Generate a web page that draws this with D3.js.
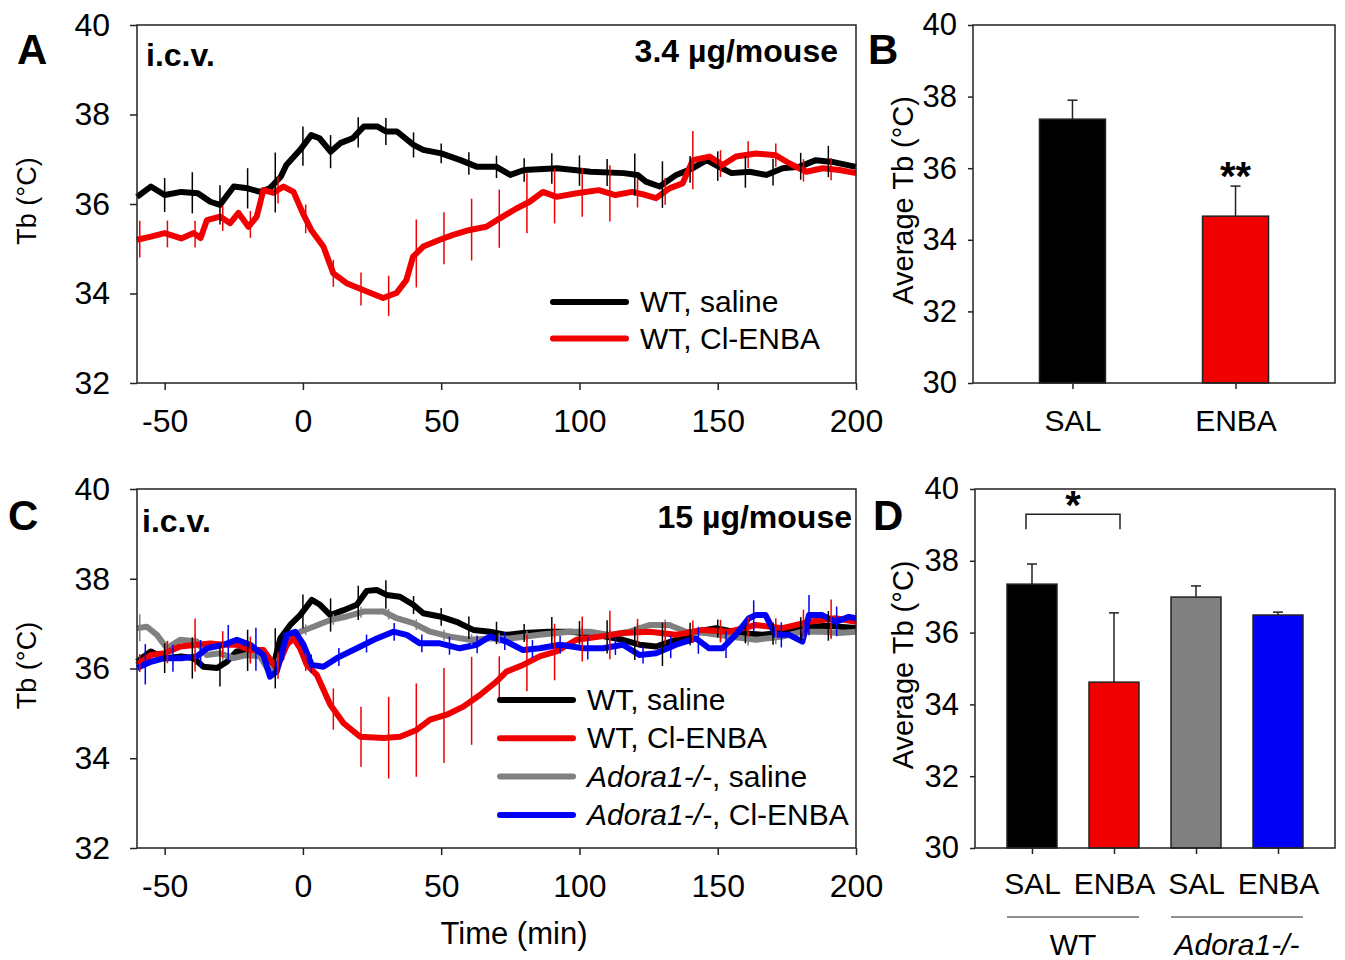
<!DOCTYPE html>
<html>
<head>
<meta charset="utf-8">
<script src="https://cdn.jsdelivr.net/npm/d3@7"></script>
<style>
body { margin: 0; background: #fff; }
text { font-family: "Liberation Sans", Arial, sans-serif; }
</style>
</head>
<body>
<svg id="fig" width="1345" height="960"></svg>
<script>
// ---- data: panel A (3.4 ug/mouse), [time min, Tb]
var aSaline = [[-60,36.16],[-55,36.39],[-50,36.2],[-44,36.27],[-38,36.24],[-33.5,36.05],[-30,35.98],[-25,36.39],[-20,36.35],[-15.5,36.27],[-12,36.35],[-8,36.61],[-6,36.87],[-1,37.21],[3,37.54],[6,37.47],[10,37.17],[13.5,37.36],[18,37.47],[22,37.73],[27,37.73],[30,37.62],[34,37.62],[40,37.32],[43.5,37.21],[50,37.13],[57,36.98],[63,36.83],[70,36.83],[75,36.65],[80,36.76],[92,36.8],[104,36.72],[116,36.69],[121,36.65],[124,36.5],[129,36.39],[135,36.65],[141,36.8],[146,36.98],[150.5,36.83],[155,36.69],[161.5,36.72],[167.5,36.65],[173.5,36.8],[179.5,36.83],[185.5,36.98],[191.5,36.94],[200,36.83]];
var aEnba = [[-60,35.2],[-55,35.27],[-50,35.35],[-44,35.23],[-39.5,35.35],[-37,35.24],[-34.7,35.64],[-30,35.72],[-26.3,35.57],[-23.3,35.8],[-19.7,35.49],[-16.7,35.72],[-14.3,36.31],[-10.6,36.25],[-7,36.39],[-3.4,36.27],[0,35.79],[3,35.42],[7.4,35.05],[11,34.45],[15.8,34.23],[21.8,34.08],[29,33.9],[33.8,34.01],[37.4,34.3],[39.8,34.82],[43.5,35.05],[49.5,35.2],[54.3,35.31],[60.3,35.42],[66.3,35.49],[71.2,35.68],[77.2,35.9],[82,36.05],[86.8,36.27],[91.7,36.16],[99,36.24],[107,36.31],[113,36.2],[119,36.27],[124,36.2],[127.7,36.13],[132.5,36.35],[137.3,36.46],[141,36.98],[147,37.06],[151.8,36.87],[156.6,37.06],[163.8,37.13],[171,37.09],[175.8,36.91],[182,36.72],[188,36.8],[194,36.76],[200,36.69]];

// error bars (half width, degC) every 10 min
var errTimes = [-50,-40,-30,-20,-10,0,10,20,30,40,50,60,70,80,90,100,110,120,130,140,150,160,170,180,190];
var errTimesShift = [-59,-49,-39,-29,-19,-9,1,11,21,31,41,51,61,71,81,91,101,111,121,131,141,151,161,171,181,191];
var errTimesBlue = [-57,-47,-37,-27,-17,-7,3,13,23,33,43,53,63,73,83,93,103,113,123,133,143,153,163,173,183,193];
var aSalineErr = [.38,.46,.44,.45,.67,.44,.37,.34,.3,.28,.22,.25,.25,.26,.34,.34,.3,.47,.52,.3,.33,.35,.3,.3,.35];
var aEnbaErr = [.41,.3,.3,.28,.3,.3,.32,.3,.37,.45,.76,.58,.69,.65,.67,.61,.54,.63,.32,.3,.65,.3,.3,.26,.25,.25];

// ---- data: panel C (15 ug/mouse)
var cSaline = [[-60,36.15],[-55,36.38],[-50,36.23],[-44,36.27],[-39.5,36.23],[-36,36.04],[-31,36.01],[-27.5,36.15],[-24,36.38],[-19,36.41],[-14.3,36.38],[-10.6,36.08],[-8.2,36.67],[-4.6,36.97],[-1,37.19],[3.2,37.53],[6.2,37.42],[9.9,37.19],[14.7,37.3],[19.5,37.42],[23.1,37.73],[26.7,37.75],[30.3,37.64],[35.1,37.6],[39.9,37.42],[43.5,37.23],[49.5,37.16],[55.5,37.04],[61.6,36.86],[67.6,36.82],[73.6,36.75],[79.6,36.79],[89,36.82],[97,36.82],[106,36.75],[115.7,36.64],[121.7,36.53],[127.7,36.49],[134.9,36.64],[142,36.82],[149.4,36.9],[157.8,36.79],[166.2,36.75],[175.8,36.82],[183,36.93],[190.2,36.95],[200,36.9]];
var cEnba = [[-60,36.08],[-55,36.3],[-50,36.34],[-44.4,36.49],[-38.3,36.53],[-33.5,36.56],[-28.7,36.53],[-23.9,36.53],[-19.1,36.41],[-14.3,36.41],[-11.3,36.15],[-9.5,36.0],[-5.8,36.53],[-3.4,36.67],[-1,36.45],[1.4,36.08],[5,35.86],[9.9,35.19],[14.7,34.78],[20.7,34.48],[29.1,34.45],[35.1,34.48],[41.1,34.63],[46,34.86],[52,34.97],[58,35.15],[64,35.41],[70,35.71],[73.6,35.93],[79.6,36.08],[85.6,36.27],[91.7,36.38],[98.9,36.64],[107.3,36.71],[115.7,36.79],[125.3,36.82],[134.9,36.75],[144.5,36.86],[154.2,36.82],[163.8,36.97],[173.4,36.9],[183,37.04],[192.6,37.12],[200,37.04]];
var cKoSaline = [[-60,36.9],[-56.4,36.93],[-52.8,36.75],[-49.2,36.45],[-44.4,36.64],[-38.4,36.6],[-34.8,36.3],[-30,36.34],[-25.1,36.23],[-20.3,36.3],[-15.5,36.27],[-11.9,35.9],[-8.3,36.23],[-4.7,36.67],[-1,36.82],[3.8,36.93],[9.9,37.08],[15.9,37.16],[21.9,37.27],[29.1,37.27],[33.9,37.12],[39.9,37.01],[46,36.82],[53.2,36.71],[60.4,36.64],[67.6,36.67],[74.8,36.67],[85.6,36.75],[96.5,36.82],[103.7,36.82],[110.9,36.75],[118.1,36.82],[125.3,36.97],[132.5,36.97],[138.5,36.82],[145.7,36.79],[154.2,36.71],[163.8,36.64],[173.4,36.71],[180.6,36.82],[187.9,36.82],[193.9,36.79],[200,36.82]];
var cKoEnba = [[-60,36.01],[-55,36.15],[-50,36.23],[-44,36.23],[-38.3,36.27],[-34.7,36.45],[-28.7,36.53],[-23.9,36.64],[-19.1,36.53],[-14.3,36.3],[-11.9,35.82],[-9.5,35.93],[-5.8,36.75],[-2.8,36.82],[0.2,36.53],[3.2,36.08],[7.4,36.04],[12.2,36.23],[19.5,36.45],[26.7,36.67],[32.7,36.82],[37.5,36.75],[42.3,36.56],[49.5,36.56],[56.7,36.45],[62.8,36.53],[67.6,36.71],[73.6,36.6],[79.6,36.41],[85.6,36.45],[92.9,36.53],[101.3,36.45],[108.5,36.45],[115.7,36.53],[121.7,36.3],[127.7,36.34],[134.9,36.53],[142.1,36.67],[146.9,36.45],[151.7,36.45],[156.5,36.75],[161.3,37.12],[163.7,37.19],[167.3,37.19],[170.9,36.75],[175.8,36.75],[180.6,36.6],[183,37.19],[187.8,37.19],[192.6,37.04],[197.4,37.15],[200,37.12]];
var cSalineErr = [.33,.46,.45,.46,.67,.38,.37,.38,.32,.2,.2,.25,.25,.2,.33,.26,.37,.37,.48,.25,.2,.22,.25,.26,.33];
var cEnbaErr = [.2,.25,.59,.3,.3,.3,.2,.46,.67,.91,1.04,1.06,.98,.5,.63,.63,.5,.54,.3,.25,.25,.25,.22,.2,.3,.43];
var cKoSalineErr = [.3,.15,.15,.15,.15,.15,.12,.12,.12,.12,.12,.12,.12,.12,.12,.12,.12,.12,.12,.12,.12,.15,.15,.15,.15,.15];
var cKoEnbaErr = [.45,.3,.3,.4,.48,.3,.2,.2,.2,.2,.2,.2,.2,.2,.2,.2,.25,.2,.2,.25,.3,.3,.35,.28,.45,.33];

// ---- data: bar panels (mean, upper SEM)
var barBKeys = ["SAL", "ENBA"];
var barBMeans = [37.37, 34.66];
var barBErr = [0.53, 0.84];
var barDKeys = ["wtSal", "wtEnba", "koSal", "koEnba"];
var barDLabels = ["SAL", "ENBA", "SAL", "ENBA"];
var barDMeans = [37.35, 34.62, 36.99, 36.49];
var barDErr = [0.56, 1.93, 0.31, 0.08];

var timeTicks = [-50, 0, 50, 100, 150, 200];
var tbTicks = [32, 34, 36, 38, 40];
var avgTicks = [30, 32, 34, 36, 38, 40];

var black = "#000", red = "#f00000", gray = "#808080", blue = "#0000f5", frameCol = "#222";

var svg = d3.select("#fig");
svg.append("rect").attr("width", 1345).attr("height", 960).attr("fill", "#fff");

var xTime = d3.scaleLinear().domain([-60, 200]).range([137, 856]);
var yA = d3.scaleLinear().domain([32, 40]).range([383, 25]);
var yC = d3.scaleLinear().domain([32, 40]).range([848, 489]);

function valueAt(data, t) {
    for (var i = 1; i < data.length; i++) {
        if (t <= data[i][0]) {
            var a = data[i - 1], b = data[i];
            return a[1] + (b[1] - a[1]) * (t - a[0]) / (b[0] - a[0]);
        }
    }
    return data[data.length - 1][1];
}

function styleAxis(g, size) {
    g.attr("font-family", "Liberation Sans, Arial, sans-serif");
    g.select(".domain").remove();
    g.selectAll(".tick line").attr("stroke", frameCol).attr("stroke-width", 1.5);
    g.selectAll(".tick text").attr("font-size", size).attr("fill", "#000");
}

function drawFrame(x0, x1, y) {
    svg.append("rect")
        .attr("x", x0).attr("y", y.range()[1])
        .attr("width", x1 - x0).attr("height", y.range()[0] - y.range()[1])
        .attr("fill", "none").attr("stroke", frameCol).attr("stroke-width", 1.5);
}

function drawTimePanel(y, series) {
    svg.append("g")
        .attr("transform", "translate(0," + y.range()[0] + ")")
        .call(d3.axisBottom(xTime).tickValues(timeTicks).tickSize(7).tickPadding(19).tickFormat(String))
        .call(styleAxis, 32);
    svg.append("g")
        .attr("transform", "translate(" + xTime.range()[0] + ",0)")
        .call(d3.axisLeft(y).tickValues(tbTicks).tickSize(7).tickPadding(20).tickFormat(String))
        .call(styleAxis, 32);

    var line = d3.line().x(function(d) { return xTime(d[0]); }).y(function(d) { return y(d[1]); });
    series.forEach(function(s) {
        svg.append("path").datum(s.data)
            .attr("d", line)
            .attr("fill", "none").attr("stroke", s.color)
            .attr("stroke-width", 6).attr("stroke-linejoin", "round");
    });
    series.forEach(function(s) {
        s.errT.forEach(function(t, i) {
            var v = valueAt(s.data, t);
            svg.append("line")
                .attr("x1", xTime(t)).attr("x2", xTime(t))
                .attr("y1", y(v - s.err[i])).attr("y2", y(v + s.err[i]))
                .attr("stroke", s.color).attr("stroke-width", 1.5);
        });
    });
    drawFrame(xTime.range()[0], xTime.range()[1], y);

    svg.append("text").text("Tb (°C)")
        .attr("transform", "translate(36," + (y(36) - 3) + ") rotate(-90)")
        .attr("text-anchor", "middle").attr("font-size", 27);
}

function drawLegend(x0, y0, gap, items) {
    items.forEach(function(it, i) {
        var ly = y0 + i * gap;
        svg.append("line")
            .attr("x1", x0).attr("x2", x0 + 73).attr("y1", ly).attr("y2", ly)
            .attr("stroke", it.color).attr("stroke-width", 6).attr("stroke-linecap", "round");
        var t = svg.append("text").attr("x", x0 + 87).attr("y", ly + 10).attr("font-size", 30);
        if (it.italic) {
            t.append("tspan").attr("font-style", "italic").text(it.italic);
        }
        t.append("tspan").text(it.label);
    });
}

// ---- panel A
drawTimePanel(yA, [
    { data: aSaline, err: aSalineErr, errT: errTimes, color: black },
    { data: aEnba, err: aEnbaErr, errT: errTimesShift, color: red }
]);
drawLegend(553, 302, 36.5, [
    { color: black, label: "WT, saline" },
    { color: red, label: "WT, Cl-ENBA" }
]);

// ---- panel C
drawTimePanel(yC, [
    { data: cSaline, err: cSalineErr, errT: errTimes, color: black },
    { data: cKoSaline, err: cKoSalineErr, errT: errTimesShift, color: gray },
    { data: cEnba, err: cEnbaErr, errT: errTimesShift, color: red },
    { data: cKoEnba, err: cKoEnbaErr, errT: errTimesBlue, color: blue }
]);
drawLegend(500, 700, 38.3, [
    { color: black, label: "WT, saline" },
    { color: red, label: "WT, Cl-ENBA" },
    { color: gray, italic: "Adora1-/-", label: ", saline" },
    { color: blue, italic: "Adora1-/-", label: ", Cl-ENBA" }
]);

svg.append("text").text("Time (min)")
    .attr("x", 514).attr("y", 944).attr("text-anchor", "middle").attr("font-size", 31);

// annotations
function bold(txt, x, y, size, anchor) {
    svg.append("text").text(txt).attr("x", x).attr("y", y)
        .attr("font-size", size).attr("font-weight", "bold")
        .attr("text-anchor", anchor || "start");
}
bold("i.c.v.", 146, 66, 32);
bold("3.4 µg/mouse", 838, 62, 32, "end");
bold("i.c.v.", 142, 532, 32);
bold("15 µg/mouse", 852, 528, 32, "end");
bold("A", 17, 64, 42);
bold("B", 868, 64, 42);
bold("C", 8, 530, 42);
bold("D", 873, 530, 42);

// ---- bar panels
function drawBarPanel(keys, labels, means, errs, colors, x, y, bw, labelPad) {
    svg.append("g")
        .attr("transform", "translate(" + x.range()[0] + ",0)")
        .call(d3.axisLeft(y).tickValues(avgTicks).tickSize(5).tickPadding(11).tickFormat(String))
        .call(styleAxis, 31);
    svg.append("g")
        .attr("transform", "translate(0," + y.range()[0] + ")")
        .call(d3.axisBottom(x).tickSize(6).tickPadding(labelPad).tickFormat(function(d, i) { return labels[i]; }))
        .call(styleAxis, 30);

    keys.forEach(function(k, i) {
        var cx = x(k);
        svg.append("line")
            .attr("x1", cx).attr("x2", cx)
            .attr("y1", y(means[i])).attr("y2", y(means[i] + errs[i]))
            .attr("stroke", frameCol).attr("stroke-width", 1.5);
        svg.append("line")
            .attr("x1", cx - 5).attr("x2", cx + 5)
            .attr("y1", y(means[i] + errs[i])).attr("y2", y(means[i] + errs[i]))
            .attr("stroke", frameCol).attr("stroke-width", 1.5);
        svg.append("rect")
            .attr("x", cx - bw / 2).attr("width", bw)
            .attr("y", y(means[i])).attr("height", y(30) - y(means[i]))
            .attr("fill", colors[i]).attr("stroke", frameCol).attr("stroke-width", 1.5);
    });
    drawFrame(x.range()[0], x.range()[1], y);

    svg.append("text").text("Average Tb (°C)")
        .attr("transform", "translate(913," + y(35.1) + ") rotate(-90)")
        .attr("text-anchor", "middle").attr("font-size", 29);
}

var xB = d3.scalePoint().domain(barBKeys).range([973, 1335]).padding(0.61);
var yB = d3.scaleLinear().domain([30, 40]).range([383, 25]);
drawBarPanel(barBKeys, barBKeys, barBMeans, barBErr, [black, red], xB, yB, 66, 21);
bold("**", xB("ENBA"), yB(barBMeans[1] + barBErr[1]) + 4, 40, "middle");

var xD = d3.scalePoint().domain(barDKeys).range([975, 1335]).padding(0.695);
var yD = d3.scaleLinear().domain([30, 40]).range([848, 489]);
drawBarPanel(barDKeys, barDLabels, barDMeans, barDErr, [black, red, gray, blue], xD, yD, 50, 19);

// significance bracket WT SAL vs WT ENBA
var bx0 = xD("wtSal") - 6, bx1 = xD("wtEnba") + 6;
svg.append("path")
    .attr("d", "M" + bx0 + "," + yD(38.88) + "V" + yD(39.3) + "H" + bx1 + "V" + yD(38.88))
    .attr("fill", "none").attr("stroke", frameCol).attr("stroke-width", 1.5);
bold("*", (bx0 + bx1) / 2, yD(39.35) + 7, 40, "middle");

// genotype group labels
function groupLabel(k0, k1, bw, txt, italic) {
    var x0 = xD(k0) - bw / 2, x1 = xD(k1) + bw / 2;
    svg.append("line").attr("x1", x0).attr("x2", x1).attr("y1", 917).attr("y2", 917)
        .attr("stroke", frameCol).attr("stroke-width", 1.2);
    svg.append("text").text(txt)
        .attr("x", (xD(k0) + xD(k1)) / 2).attr("y", 955)
        .attr("text-anchor", "middle").attr("font-size", 30)
        .attr("font-style", italic ? "italic" : "normal");
}
groupLabel("wtSal", "wtEnba", 50, "WT", false);
groupLabel("koSal", "koEnba", 50, "Adora1-/-", true);
</script>
</body>
</html>
